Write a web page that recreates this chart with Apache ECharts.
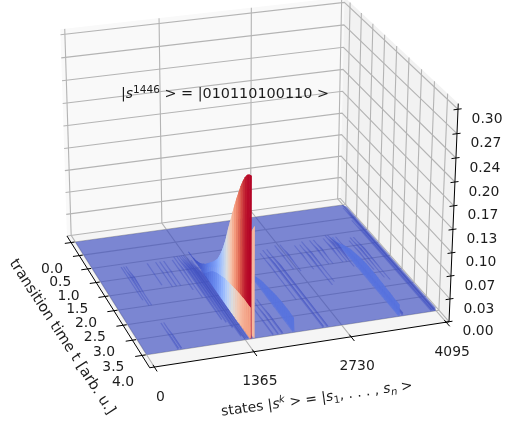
<!DOCTYPE html>
<html><head><meta charset="utf-8">
<style>html,body{margin:0;padding:0;background:#fff}#c{width:505px;height:427px;filter:blur(0.35px)}</style>
<script src="https://cdn.jsdelivr.net/npm/echarts@6/dist/echarts.min.js"></script>
</head><body><div id="c"></div>
<script>
// ---- chart values ----
const times = [0,0.1,0.2,0.3,0.4,0.5,0.6,0.7,0.8,0.9,1,1.1,1.2,1.3,1.4,1.5,1.6,1.7,1.8,1.9,2,2.1,2.2,2.3,2.4,2.5,2.6,2.7,2.8,2.9,3,3.1,3.2,3.3,3.4,3.5,3.6,3.7,3.8,3.9,4];
const peakState = 1446;
const peakProb = [0,0,0,0,0,0,0,0,0,0,0.0005,0.001,0.002,0.003,0.005,0.007,0.01,0.014,0.018,0.023,0.028,0.033,0.038,0.044,0.05,0.059,0.069,0.081,0.095,0.112,0.127,0.142,0.157,0.171,0.184,0.197,0.208,0.217,0.224,0.228,0.23];
const shoulderState = 1438;
const shoulderProb = [0,0,0,0,0,0,0,0,0,0,0,0,0,0,0,0,0,0.001,0.004,0.009,0.014,0.019,0.023,0.026,0.029,0.031,0.033,0.035,0.037,0.038,0.039,0.04,0.041,0.042,0.043,0.044,0.044,0.045,0.045,0.045,0.045];
const neighbourState = 1490;
const neighbourProb = [0,0,0,0,0,0,0,0,0,0,0,0,0,0,0,0.004,0.006,0.009,0.012,0.016,0.02,0.024,0.028,0.032,0.037,0.042,0.048,0.054,0.06,0.067,0.074,0.081,0.088,0.096,0.105,0.114,0.123,0.132,0.142,0.151,0.16];
const bandAState = 2048;
const bandAProb = [0,0,0,0,0,0,0,0,0,0,0,0,0,0,0,0,0,0,0.0005,0.001,0.003,0.005,0.007,0.009,0.011,0.013,0.014,0.015,0.016,0.017,0.018,0.019,0.02,0.0205,0.021,0.0215,0.0215,0.0215,0.0215,0.021,0.021];
const bandBState = 3560;
const bandBProb = [0,0,0,0,0,0,0,0,0,0,0,0,0.0005,0.001,0.003,0.005,0.008,0.01,0.012,0.014,0.015,0.016,0.017,0.018,0.019,0.0195,0.02,0.02,0.02,0.02,0.02,0.0195,0.019,0.019,0.0185,0.018,0.018,0.0175,0.017,0.017,0.017];
// minor ridges: state, start t, t of full height, end t, height, height at end
const minorRidges = [
 [4085,0,0.2,4,0.005,0.005],[4060,0.1,0.6,4,0.004,0.004],[4030,0.6,1.2,4,0.003,0.003],
 [3850,1.2,1.7,2.8,0.003,0],[3800,1.2,1.7,2.7,0.003,0],[3750,1.3,1.8,2.4,0.002,0],
 [3610,1.1,1.8,4,0.003,0.005],[3520,1.0,1.5,2.2,0.006,0],[3480,1.0,1.4,2,0.004,0],[3420,1.1,1.5,2,0.003,0],
 [3270,1.1,1.5,2,0.003,0],[3210,1.1,1.5,2,0.003,0],[3090,1.1,1.6,2.6,0.003,0],[3030,1.2,1.7,2.7,0.003,0],
 [2950,1.2,1.6,2.1,0.002,0],[2760,1.1,1.5,2.1,0.003,0],[2680,1.1,1.5,2,0.002,0],
 [2530,1.2,1.9,4,0.004,0.003],[2470,1.2,1.8,4,0.004,0.003],[2400,1.3,1.8,3,0.002,0],
 [1890,2.8,3.4,4,0.003,0.003],[1830,2.9,3.4,4,0.003,0.002],[1760,3,3.5,4,0.002,0.002],
 [1400,1.2,2,4,0.007,0.003],[1370,1.1,1.8,4,0.007,0.003],[1340,1.0,1.8,3.9,0.007,0.003],[1310,1.0,1.7,3.6,0.007,0.003],
 [1280,1.0,1.6,3.4,0.006,0.002],[1245,1.0,1.6,3.3,0.005,0.002],[1200,1.0,1.5,2.5,0.003,0],[1150,1.1,1.5,2.2,0.002,0],
 [1025,1.1,1.5,2,0.002,0],[965,1.1,1.5,2,0.002,0],[905,1.1,1.5,2,0.002,0],[780,1.1,1.5,1.9,0.001,0],
 [480,3.1,3.6,4,0.003,0.003],[440,3.1,3.6,4,0.003,0.003],
 [470,1.1,1.6,2.5,0.004,0],[435,1.1,1.6,2.5,0.004,0],[400,1.1,1.6,2.3,0.002,0]
];
const xTicks = [0,1365,2730,4095];
const tTicks = [0,0.5,1,1.5,2,2.5,3,3.5,4];
const tLabels = ['0.0','0.5','1.0','1.5','2.0','2.5','3.0','3.5','4.0'];
const zTicks = [0,0.0333,0.0667,0.1,0.1333,0.1667,0.2,0.2333,0.2667,0.3];
const zLabels = ['0.00','0.03','0.07','0.10','0.13','0.17','0.20','0.24','0.27','0.30'];
const colorMax = 0.23;

// ---- camera: box corners (u,v,w in 0..1) and where they appear on the page ----
const cameraFit = [
 [0,1,0, 150,367],[1,1,0, 449,323],[0,0,0, 67,237],[1,0,0, 340,197],
 [0,0,1, 60,29],[1,0,1, 345,-2],[1,1,1, 458,103]
];
function solveCamera(pts){
  const A=[],B=[];
  pts.forEach(([u,v,w,x,y])=>{
    A.push([u,v,w,1,0,0,0,0,-x*u,-x*v,-x*w]);B.push(x);
    A.push([0,0,0,0,u,v,w,1,-y*u,-y*v,-y*w]);B.push(y);
  });
  const n=11,M=[];
  for(let i=0;i<n;i++){const r=[];for(let j=0;j<n;j++){let s=0;A.forEach(a=>s+=a[i]*a[j]);r.push(s);}
    let s=0;A.forEach((a,k)=>s+=a[i]*B[k]);r.push(s);M.push(r);}
  for(let i=0;i<n;i++){let p=i;for(let k=i+1;k<n;k++)if(Math.abs(M[k][i])>Math.abs(M[p][i]))p=k;
    [M[i],M[p]]=[M[p],M[i]];
    for(let k=0;k<n;k++){if(k===i)continue;const f=M[k][i]/M[i][i];for(let j=i;j<=n;j++)M[k][j]-=f*M[i][j];}}
  return M.map((r,i)=>r[n]/r[i]);
}
const cam = solveCamera(cameraFit);
function project(u,v,w){
  const d=cam[8]*u+cam[9]*v+cam[10]*w+1;
  return [(cam[0]*u+cam[1]*v+cam[2]*w+cam[3])/d,(cam[4]*u+cam[5]*v+cam[6]*w+cam[7])/d];
}
const U=s=>0.015+s/4095*0.975, V=t=>0.055+t/4*0.86, W=z=>z/0.3*0.975;

// ---- colormap ----
const cw=[[59,76,192],[98,130,234],[141,176,254],[184,208,249],[221,221,221],[245,196,173],[244,152,122],[222,96,77],[180,4,38]];
function coolwarm(n,a){n=Math.max(0,Math.min(1,n))*8;const i=Math.min(7,Math.floor(n)),f=n-i;
  const c=[0,1,2].map(k=>Math.round(cw[i][k]+(cw[i+1][k]-cw[i][k])*f));
  return `rgba(${c[0]},${c[1]},${c[2]},${a})`;}

// ---- primitives in box coordinates ----
const prims=[];
const poly=(pts,fill)=>prims.push({pts,fill});
const line=(pts,stroke,w)=>prims.push({pts,stroke,w});
poly([[0,0,0],[1,0,0],[1,0,1],[0,0,1]],'#f9f9f9');
poly([[1,0,0],[1,1,0],[1,1,1],[1,0,1]],'#f2f2f2');
poly([[0,0,0],[1,0,0],[1,1,0],[0,1,0]],'#f5f5f5');
const gridC='#b4b4b4';
xTicks.forEach(s=>line([[U(s),1,0],[U(s),0,0],[U(s),0,1]],gridC,1.1));
tTicks.forEach(t=>line([[0,V(t),0],[1,V(t),0],[1,V(t),1]],gridC,1.1));
zTicks.forEach(z=>line([[0,0,W(z)],[1,0,W(z)],[1,1,W(z)]],gridC,1.1));
// surface floor
poly([[U(0),V(0),0],[U(4095),V(0),0],[U(4095),V(4),0],[U(0),V(4),0]],'rgba(59,76,192,0.66)');
// ridges
function wall(state,tA,zA,tB,zB,halfW,fill){
  poly([[U(state-halfW),V(tA),0],[U(state),V(tA),W(zA)],[U(state),V(tB),W(zB)],[U(state-halfW),V(tB),0]],fill);
}
function backWall(state,tA,zA,tB,zB,halfW,fill){
  poly([[U(state+halfW),V(tA),0],[U(state),V(tA),W(zA)],[U(state),V(tB),W(zB)],[U(state+halfW),V(tB),0]],fill);
}
const items=[];
minorRidges.forEach(r=>items.push({s:r[0],draw(){
  const [st,t0,t1,t2,z1,z2]=r;const f='rgba(59,76,192,0.42)';
  backWall(st,t0,0,t1,z1,9,f);wall(st,t0,0,t1,z1,9,f);
  backWall(st,t1,z1,t2,z2,9,f);wall(st,t1,z1,t2,z2,9,f);
}}));
function profile(st,vals,hw,a,colorScale){
  for(let j=0;j<times.length-1;j++){
    if(vals[j]===0&&vals[j+1]===0)continue;
    const m=Math.max(vals[j],vals[j+1]);
    const f=coolwarm(colorScale?colorScale(j):m/colorMax,a);
    backWall(st,times[j],vals[j],times[j+1],vals[j+1],hw,f);
    wall(st,times[j],vals[j],times[j+1],vals[j+1],hw,f);
  }
}
items.push({s:bandBState,draw(){profile(bandBState,bandBProb,10,0.8,()=>0.09);}});
items.push({s:bandAState,draw(){profile(bandAState,bandAProb,10,0.8,()=>0.09);}});
items.push({s:neighbourState,draw(){profile(neighbourState,neighbourProb,6,1,()=>0.66);}});
items.push({s:peakState,draw(){profile(peakState,peakProb,6,1);}});
items.push({s:shoulderState,draw(){profile(shoulderState,shoulderProb,6,1,j=>peakProb[j+1]/colorMax*0.72);}});
items.sort((a,b)=>b.s-a.s).forEach(i=>i.draw());
// axes
const axisC='#000';
line([[0,0,0],[0,1,0]],axisC,1);
line([[0,1,0],[1,1,0]],axisC,1);
line([[1,1,0],[1,1,1]],axisC,1);
xTicks.forEach(s=>line([[U(s),0.985,0],[U(s),1.03,0]],axisC,1));
tTicks.forEach(t=>line([[-0.022,V(t),0],[0.012,V(t),0]],axisC,1));
zTicks.forEach(z=>line([[0.985,1,W(z)],[1.012,1,W(z)]],axisC,1));

// ---- texts ----
const textC='#1c1c1c',FF='"DejaVu Sans"',FS=13.9;
const texts=[];
const addTick=(p,dx,dy,txt)=>texts.push({x:p[0]+dx,y:p[1]+dy,text:txt});
xTicks.forEach(s=>addTick(project(U(s),1,0),6,30,String(s)));
tTicks.forEach((t,i)=>addTick(project(0,V(t),0),-21+2,27,tLabels[i]));
zTicks.forEach((z,i)=>addTick(project(1,1,W(z)),29,10,zLabels[i]));
const rich={
 n:{fontFamily:FF,fontSize:FS,fill:textC},
 w:{fontFamily:FF,fontSize:14.4,fill:textC},
 i:{fontFamily:FF,fontSize:FS,fontStyle:'italic',fill:textC},
 sup:{fontFamily:FF,fontSize:10.5,fill:textC,verticalAlign:'top',lineHeight:18},
 supi:{fontFamily:FF,fontSize:10,fontStyle:'italic',fill:textC,verticalAlign:'top',lineHeight:18},
 sub:{fontFamily:FF,fontSize:10,fill:textC,verticalAlign:'bottom',lineHeight:18},
 subi:{fontFamily:FF,fontSize:10,fontStyle:'italic',fill:textC,verticalAlign:'bottom',lineHeight:18}
};
texts.push({x:225,y:94,text:'{w|\u007c}{i|s}{sup|1446}{w| > = \u007c010110100110 >}',rich});
texts.push({x:62,y:337,rot:-57,size:14.7,text:'transition time t [arb. u.]'});
texts.push({x:317,y:399,rot:7.9,text:'{n|states \u007c}{i|s}{supi|k}{n| > = \u007c}{i|s}{sub|1}{n|, . . . , }{i|s}{subi|n}{n| >}',rich});

const chart=echarts.init(document.getElementById('c'),null,{renderer:'canvas'});
chart.setOption({
 animation:false,
 backgroundColor:'#fff',
 grid:{left:0,right:0,top:0,bottom:0},
 xAxis:{type:'value',min:0,max:505,show:false},
 yAxis:{type:'value',min:0,max:427,inverse:true,show:false},
 series:[
  {type:'custom',coordinateSystem:'cartesian2d',clip:false,silent:true,
   data:prims.map((_,i)=>[i]),
   renderItem(params,api){
     const p=prims[api.value(0)];
     const pts=p.pts.map(q=>api.coord(project(q[0],q[1],q[2])));
     if(p.fill)return {type:'polygon',shape:{points:pts},style:{fill:p.fill,stroke:null}};
     return {type:'polyline',shape:{points:pts},style:{fill:null,stroke:p.stroke,lineWidth:p.w}};
   }},
  {type:'custom',coordinateSystem:'cartesian2d',clip:false,silent:true,z:5,
   data:texts.map((_,i)=>[i]),
   renderItem(params,api){
     const t=texts[api.value(0)];
     const c=api.coord([t.x,t.y]);
     return {type:'text',x:c[0],y:c[1],rotation:(t.rot||0)*Math.PI/180,
       style:{text:t.text,rich:t.rich,fontFamily:FF,fontSize:t.size||FS,fill:textC,align:'center',verticalAlign:'middle'}};
   }}
 ]
});
</script></body></html>
